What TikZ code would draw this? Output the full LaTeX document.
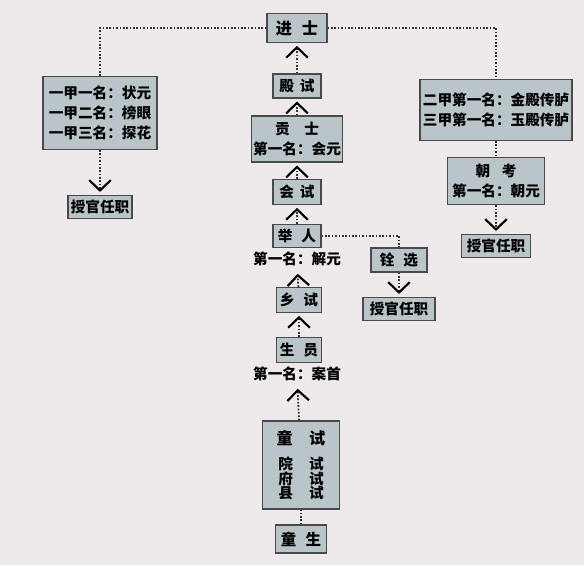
\documentclass[tikz,border=0pt]{standalone}
\usepackage{fontspec}
\newfontfamily\cjk{Noto Sans CJK SC}
\usetikzlibrary{arrows.meta}
\definecolor{paper}{HTML}{EEEAEC}
\definecolor{boxfill}{HTML}{BAC5C9}
\definecolor{boxline}{HTML}{4A4A4A}

\begin{document}
\begin{tikzpicture}[x=0.025cm,y=-0.025cm,>={Straight Barb[length=2.6mm,width=5.4mm,line width=1.5pt,black]},
  font=\cjk\bfseries\fontsize{10.4pt}{14pt}\selectfont,
  exam/.style={draw=boxline,line width=0.9pt,fill=boxfill,inner sep=1pt,align=center},
  link/.style={black!80,line width=1.3pt,dash pattern=on 1.2pt off 1.2pt},
  up/.style={link,->,shorten >=2pt}]
\fill[paper] (0,0) rectangle (584,565);
\useasboundingbox (0,0) rectangle (584,565);
% main line
\node[exam,minimum width=1.5cm,minimum height=0.72cm,font=\cjk\bfseries\fontsize{11.5pt}{14pt}\selectfont] (jinshi) at (297,28) {进\hspace{0.6em}士};
\node[exam,minimum width=1.2cm,minimum height=0.6cm] (dianshi) at (297,86) {殿\hspace{0.4em}试};
\node[exam,minimum width=2.22cm,minimum height=1.15cm] (gongshi) at (297,139) {贡\hspace{1em}士\\第一名：会元};
\node[exam,minimum width=1.2cm,minimum height=0.62cm] (huishi) at (297,192) {会\hspace{0.4em}试};
\node[exam,minimum width=1.2cm,minimum height=0.58cm] (juren) at (297,236) {举\hspace{0.6em}人};
\node (jieyuan) at (297,259) {第一名：解元};
\node[exam,minimum width=1.12cm,minimum height=0.62cm] (xiangshi) at (299,300) {乡\hspace{0.6em}试};
\node[exam,minimum width=1.12cm,minimum height=0.62cm] (shengyuan) at (299,350) {生\hspace{0.6em}员};
\node (anshou) at (297,374) {第一名：案首};
\node[exam,minimum width=1.92cm,minimum height=2.2cm] (tongshi) at (301,465)
  {{\fontsize{11.5pt}{14pt}\selectfont 童\hspace{1em}试}\\[4pt]院\hspace{1.1em}试\\[-4pt]府\hspace{1.1em}试\\[-4pt]县\hspace{1.1em}试};
\node[exam,minimum width=1.28cm,minimum height=0.7cm,font=\cjk\bfseries\fontsize{11pt}{14pt}\selectfont] (tongsheng) at (301,539) {童\hspace{0.6em}生};
% left branch
\node[exam,minimum width=2.85cm,minimum height=1.82cm] (yijia) at (100,113) {一甲一名：状元\\一甲二名：榜眼\\一甲三名：探花};
\node[exam,minimum width=1.6cm,minimum height=0.58cm] (shouguanL) at (100,207) {授官任职};
% right branch
\node[exam,minimum width=3.8cm,minimum height=1.52cm] (erjia) at (496,110) {二甲第一名：金殿传胪\\三甲第一名：玉殿传胪};
\node[exam,minimum width=2.42cm,minimum height=1.18cm] (chaokao) at (496,181) {朝\hspace{0.8em}考\\第一名：朝元};
\node[exam,minimum width=1.72cm,minimum height=0.58cm] (shouguanR) at (496,246) {授官任职};
% middle branch
\node[exam,minimum width=1.4cm,minimum height=0.6cm] (quanxuan) at (399,260) {铨\hspace{0.6em}选};
\node[exam,minimum width=1.8cm,minimum height=0.58cm] (shouguanM) at (399,309) {授官任职};
% connectors
\draw[link] (jinshi.west) -| (yijia.north);
\draw[link] (jinshi.east) -| (erjia.north);
\draw[up] (dianshi) -- (jinshi);
\draw[up] (gongshi) -- (dianshi);
\draw[up] (huishi) -- (gongshi);
\draw[up] (juren) -- (huishi);
\draw[up] (xiangshi) -- (jieyuan);
\draw[up] (shengyuan) -- (xiangshi);
\draw[up] (tongshi) -- (anshou);
\draw[link] (tongsheng) -- (tongshi);
\draw[up] (yijia) -- (shouguanL);
\draw[link] (erjia) -- (chaokao);
\draw[up] (chaokao) -- (shouguanR);
\draw[link] (juren.east) -| (quanxuan.north);
\draw[up] (quanxuan) -- (shouguanM);
\end{tikzpicture}
\end{document}
